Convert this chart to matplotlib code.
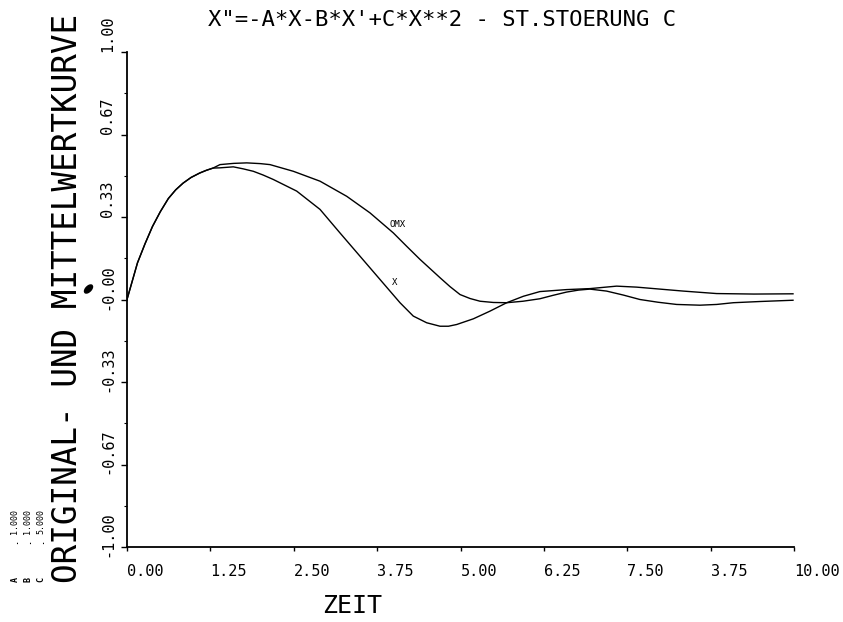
import matplotlib
matplotlib.use("Agg")
import matplotlib.pyplot as plt
from matplotlib.patches import Ellipse
from matplotlib.transforms import offset_copy

MONO = "DejaVu Sans Mono"

# values
t_common = [0.0, 0.157, 0.27, 0.382, 0.5, 0.62, 0.73, 0.84, 0.96, 1.09, 1.19, 1.29]
y_common = [0.0, 0.148, 0.225, 0.295, 0.355, 0.408, 0.443, 0.470, 0.493, 0.511,
            0.522, 0.531]

t_mx = [1.394, 1.6, 1.795, 2.0, 2.144, 2.494, 2.894, 3.294, 3.643, 3.993, 4.193,
        4.393, 4.693, 4.843, 4.993, 5.143, 5.293, 5.493, 5.693, 5.937, 6.19, 6.39,
        6.59, 6.77, 6.94, 7.19, 7.44, 7.69, 7.96, 8.24, 8.59, 8.84, 9.09, 9.5, 9.985]
y_mx = [0.545, 0.550, 0.552, 0.549, 0.545, 0.518, 0.478, 0.417, 0.350, 0.269, 0.215,
        0.162, 0.088, 0.052, 0.020, 0.004, -0.007, -0.012, -0.013, -0.007, 0.003,
        0.017, 0.030, 0.038, 0.042, 0.034, 0.018, 0.0, -0.011, -0.020, -0.023,
        -0.020, -0.013, -0.008, -0.003]

t_x = [1.394, 1.594, 1.74, 1.894, 2.04, 2.193, 2.544, 2.894, 3.193, 3.493, 3.793,
       4.093, 4.292, 4.493, 4.693, 4.82, 4.943, 5.193, 5.442, 5.693, 5.942, 6.19,
       6.59, 6.94, 7.14, 7.34, 7.64, 7.99, 8.34, 8.84, 9.4, 9.985]
y_x = [0.532, 0.536, 0.528, 0.518, 0.503, 0.485, 0.438, 0.364, 0.269, 0.175, 0.081,
       -0.013, -0.067, -0.094, -0.108, -0.108, -0.101, -0.078, -0.047, -0.013,
       0.013, 0.032, 0.040, 0.044, 0.049, 0.054, 0.050, 0.042, 0.034, 0.024,
       0.022, 0.023]

x_ticks = [0, 1.25, 2.5, 3.75, 5, 6.25, 7.5, 8.75, 10]
x_labels = ["0.00", "1.25", "2.50", "3.75", "5.00", "6.25", "7.50", "3.75", "10.00"]
y_ticks = [-1, -2 / 3, -1 / 3, 0, 1 / 3, 2 / 3, 1]
y_labels = ["-1.00", "-0.67", "-0.33", "-0.00", "0.33", "0.67", "1.00"]

params = ["A", "B", "C"]
param_vals = ["1.000", "1.000", "5.000"]

fig = plt.figure(figsize=(8.43, 6.22), dpi=100)
ax = fig.add_axes([127 / 843, 75 / 622, 667 / 843, 495 / 622])

ax.plot(t_common + t_mx, y_common + y_mx, color="black", lw=1.0)
ax.plot(t_common + t_x, y_common + y_x, color="black", lw=1.0)
ax.text(3.94, 0.303, "OMX", fontsize=6.5, family=MONO, va="center", ha="left")
ax.text(3.97, 0.069, "X", fontsize=6.5, family=MONO, va="center", ha="left")

ax.set_xlim(0, 10)
ax.set_ylim(-1, 1)
for s in ["top", "right"]:
    ax.spines[s].set_visible(False)
for s in ["left", "bottom"]:
    ax.spines[s].set_linewidth(1.3)

ax.set_xticks(x_ticks)
ax.set_xticklabels(x_labels, ha="left", family=MONO, fontsize=11)
ax.tick_params(axis="x", direction="out", length=3, width=1, pad=9)

ax.set_yticks(y_ticks)
ax.set_yticklabels([])
ax.set_yticks([-5 / 6, -1 / 2, -1 / 6, 1 / 6, 1 / 2, 5 / 6], minor=True)
ax.tick_params(axis="y", which="major", direction="out", length=4, width=1)
ax.tick_params(axis="y", which="minor", direction="out", length=2, width=0.8)

# rotated y tick labels, digits start at the tick, minus sign hangs below
ytr = ax.get_yaxis_transform()
for v, lab in zip(y_ticks, y_labels):
    tr = offset_copy(ytr, fig=fig, y=-10 if lab.startswith("-") else 0, units="dots")
    ax.text(-0.0285, v, lab, transform=tr, rotation=90, rotation_mode="anchor",
            ha="left", va="center", family=MONO, fontsize=11)

fig.text(0.5243, 0.9686, "X\"=-A*X-B*X'+C*X**2 - ST.STOERUNG C",
         ha="center", va="center", family=MONO, fontsize=16)
fig.text(0.080, 0.520, "ORIGINAL- UND MITTELWERTKURVE", rotation=90,
         ha="center", va="center", family=MONO, fontsize=23.5)
fig.text(0.4176, 0.0257, "ZEIT", ha="center", va="center", family=MONO, fontsize=18)

for i, (p, v) in enumerate(zip(params, param_vals)):
    xf = (15 + 13 * i) / 843
    fig.text(xf, 1 - 580 / 622, p, rotation=90, ha="center", va="center",
             family=MONO, fontsize=6, weight="bold")
    fig.text(xf, 1 - 542 / 622, ".", rotation=90, ha="center", va="center",
             family=MONO, fontsize=6, weight="bold")
    fig.text(xf, 1 - 522 / 622, v, rotation=90, ha="center", va="center",
             family=MONO, fontsize=6)

# ink blot on the scan
fig.patches.append(Ellipse((88.5 / 843, 1 - 289 / 622), 6 / 843, 9 / 622, angle=-30,
                           transform=fig.transFigure, color="black"))

fig.savefig("out.png", dpi=100)
